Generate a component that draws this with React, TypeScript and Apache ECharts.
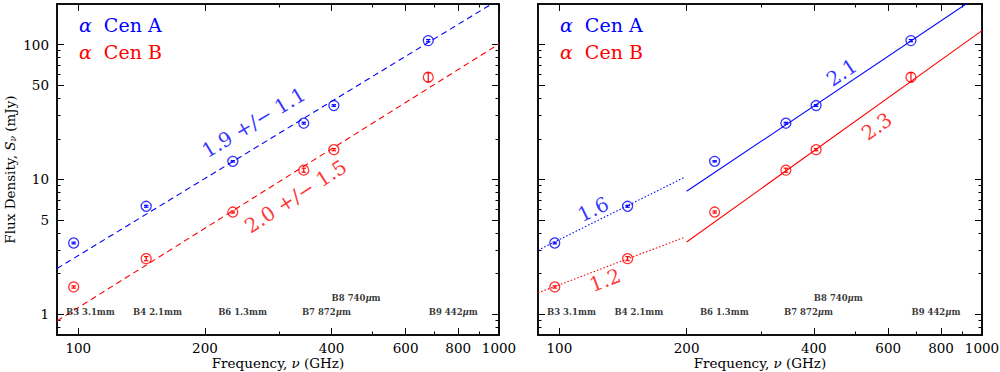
import React, { useEffect, useRef } from "react";
import * as echarts from "echarts";

// ---- data ----
const freqs = [97.5, 145, 233, 343.5, 405, 679]; // GHz
const cenA = [3.37, 6.31, 13.6, 26.1, 35.3, 107]; // mJy
const cenAErr = [0.05, 0.1, 0.15, 0.4, 0.5, 2.0];
const cenB = [1.59, 2.58, 5.72, 11.7, 16.6, 57.3];
const cenBErr = [0.03, 0.09, 0.1, 0.4, 0.3, 4.5];

// power-law fits (endpoints)
const fitAllA = [[89, 2.18], [1000, 216]];
const fitAllB = [[89, 0.89], [1000, 101]];
const fitLowA = [[89, 2.98], [197, 10.3]];
const fitHighA = [[200, 8.15], [1000, 240]];
const fitLowB = [[89, 1.438], [197, 3.7]];
const fitHighB = [[200, 3.43], [1000, 127]];

// ALMA band labels
const bandNames = ["B3 3.1mm", "B4 2.1mm", "B6 1.3mm", "B7 872μm", "B8 740μm", "B9 442μm"];
const bandFreqs = [93.5, 135, 215, 340, 400, 681];
const bandLevels = [1.03, 1.03, 1.03, 1.03, 1.31, 1.03];

// axis ticks
const xMajor = [100, 200, 400, 600, 800, 1000];
const xMinor = [300, 500, 700, 900];
const yMajor = [1, 5, 10, 50, 100];
const yMinor = [0.8, 0.9, 2, 3, 4, 6, 7, 8, 9, 20, 30, 40, 60, 70, 80, 90];
const X_MIN = 89, X_MAX = 1000, Y_MIN = 0.7, Y_MAX = 200;

const BLUE = "#0000ff";
const RED = "#ff0000";
const FONT = "DejaVu Serif";

const lg = (v: number) => Math.log10(v);

function xAxis(grid: number, pos: string, ticks: number[], len: number, labels: boolean, named: boolean) {
  return {
    type: "value",
    gridIndex: grid,
    position: pos,
    min: lg(X_MIN),
    max: lg(X_MAX),
    axisLine: { show: true, onZero: false, lineStyle: { color: "#000", width: 1.5 } },
    axisTick: { show: true, inside: true, length: len, customValues: ticks.map(lg), lineStyle: { color: "#000", width: 1 } },
    axisLabel: labels
      ? {
          show: true,
          customValues: xMajor.map(lg),
          formatter: (v: number) => String(Math.round(Math.pow(10, v))),
          margin: 6,
          color: "#000",
          fontFamily: FONT,
          fontSize: 13.5,
        }
      : { show: false },
    splitLine: { show: false },
    name: named ? "{n|Frequency, }{i|ν}{n| (GHz)}" : "",
    nameLocation: "middle",
    nameGap: 20,
    nameMoveOverlap: false,
    nameTextStyle: {
      verticalAlign: "top",
      lineHeight: 15,
      rich: {
        n: { fontFamily: FONT, fontSize: 13.5, color: "#000", lineHeight: 15 },
        i: { fontFamily: FONT, fontSize: 13.5, color: "#000", fontStyle: "italic", lineHeight: 15 },
      },
    },
  };
}

function yAxis(grid: number, pos: string, ticks: number[], len: number, labels: boolean, named: boolean) {
  return {
    type: "value",
    gridIndex: grid,
    position: pos,
    min: lg(Y_MIN),
    max: lg(Y_MAX),
    axisLine: { show: true, onZero: false, lineStyle: { color: "#000", width: 1.5 } },
    axisTick: { show: true, inside: true, length: len, customValues: ticks.map(lg), lineStyle: { color: "#000", width: 1 } },
    axisLabel: labels
      ? {
          show: true,
          customValues: yMajor.map(lg),
          formatter: (v: number) => String(Math.round(Math.pow(10, v))),
          margin: 8,
          color: "#000",
          fontFamily: FONT,
          fontSize: 13.5,
        }
      : { show: false },
    splitLine: { show: false },
    name: named ? "{n|Flux Density, }{i|S}{s|ν}{n| (mJy)}" : "",
    nameLocation: "middle",
    nameGap: 40,
    nameMoveOverlap: false,
    nameTextStyle: {
      rich: {
        n: { fontFamily: FONT, fontSize: 13.5, color: "#000" },
        i: { fontFamily: FONT, fontSize: 13.5, color: "#000", fontStyle: "italic" },
        s: { fontFamily: FONT, fontSize: 9, color: "#000", fontStyle: "italic", verticalAlign: "bottom" },
      },
    },
  };
}

function panelSeries(p: number, fits: { pts: number[][]; color: string; type: string }[], notes: { text: string; at: number[]; rot: number; color: string }[]) {
  const xi = p * 4;
  const yi = p * 4;
  const out: any[] = [];
  fits.forEach((f) => {
    out.push({
      type: "line",
      xAxisIndex: xi,
      yAxisIndex: yi,
      data: f.pts.map((d) => [lg(d[0]), lg(d[1])]),
      showSymbol: false,
      symbol: "none",
      silent: true,
      clip: true,
      lineStyle: { color: f.color, width: 1.1, type: f.type === "dashed" ? [6, 4] : f.type === "dotted" ? [1.5, 2] : "solid" },
      z: 2,
    });
  });
  const sets = [
    { vals: cenA, errs: cenAErr, color: BLUE },
    { vals: cenB, errs: cenBErr, color: RED },
  ];
  sets.forEach((s) => {
    out.push({
      type: "scatter",
      xAxisIndex: xi,
      yAxisIndex: yi,
      symbol: "circle",
      symbolSize: 10,
      silent: true,
      itemStyle: { color: "rgba(0,0,0,0)", borderColor: s.color, borderWidth: 1.3 },
      data: freqs.map((f, i) => [lg(f), lg(s.vals[i])]),
      z: 3,
    });
    out.push({
      type: "custom",
      xAxisIndex: xi,
      yAxisIndex: yi,
      silent: true,
      data: freqs.map((f, i) => [lg(f), lg(s.vals[i] - s.errs[i]), lg(s.vals[i] + s.errs[i])]),
      renderItem: (params: any, api: any) => {
        const lo = api.coord([api.value(0), api.value(1)]);
        const hi = api.coord([api.value(0), api.value(2)]);
        const w = 2.2;
        const st = { stroke: s.color, lineWidth: 1.2 };
        return {
          type: "group",
          children: [
            { type: "line", shape: { x1: lo[0], y1: lo[1], x2: hi[0], y2: hi[1] }, style: st },
            { type: "line", shape: { x1: lo[0] - w, y1: lo[1], x2: lo[0] + w, y2: lo[1] }, style: st },
            { type: "line", shape: { x1: hi[0] - w, y1: hi[1], x2: hi[0] + w, y2: hi[1] }, style: st },
          ],
        };
      },
      z: 3,
    });
  });
  notes.forEach((n) => {
    out.push({
      type: "scatter",
      xAxisIndex: xi,
      yAxisIndex: yi,
      symbolSize: 0,
      silent: true,
      data: [[lg(n.at[0]), lg(n.at[1])]],
      label: {
        show: true,
        position: "inside",
        formatter: n.text,
        rotate: n.rot,
        color: n.color,
        fontFamily: FONT,
        fontSize: 20,
      },
      z: 4,
    });
  });
  out.push({
    type: "scatter",
    xAxisIndex: xi,
    yAxisIndex: yi,
    symbolSize: 0,
    silent: true,
    data: bandNames.map((b, i) => ({ value: [lg(bandFreqs[i]), lg(bandLevels[i])], name: b })),
    label: {
      show: true,
      position: [0, 0],
      align: "left",
      verticalAlign: "middle",
      formatter: (prm: any) => {
        const nm: string = prm.name;
        if (nm.indexOf("μ") >= 0) {
          const k = nm.indexOf("μ");
          return "{t|" + nm.slice(0, k) + "}{u|μ}{t|" + nm.slice(k + 1) + "}";
        }
        return "{t|" + nm + "}";
      },
      rich: {
        t: { fontFamily: FONT, fontSize: 8.5, fontWeight: "bold", color: "#000" },
        u: { fontFamily: FONT, fontSize: 8.5, fontWeight: "bold", color: "#000", fontStyle: "italic" },
      },
    },
    z: 4,
  });
  return out;
}

function legendText(x: number, y: number, label: string, color: string) {
  return {
    type: "text",
    x,
    y,
    silent: true,
    style: {
      text: "{g|α} {n|" + label + "}",
      verticalAlign: "middle",
      rich: {
        g: { fontFamily: FONT, fontSize: 19, fill: color, fontStyle: "italic", padding: [0, 3, 0, 0] },
        n: { fontFamily: FONT, fontSize: 19, fill: color, padding: [0, 0, 0, 3] },
      },
      fontFamily: FONT,
      fontSize: 19,
      fill: color,
    },
  };
}

export default function App() {
  const ref = useRef<HTMLDivElement>(null);
  useEffect(() => {
    if (!ref.current) return;
    const chart = echarts.init(ref.current, null, { renderer: "svg" });
    const grids = [
      { left: 57, top: 4, width: 442, height: 331, show: false, containLabel: false, outerBoundsMode: "none" },
      { left: 538, top: 4, width: 444, height: 331, show: false, containLabel: false, outerBoundsMode: "none" },
    ];
    const xAxes: any[] = [];
    const yAxes: any[] = [];
    [0, 1].forEach((g) => {
      xAxes.push(xAxis(g, "bottom", xMajor, 7, true, true));
      xAxes.push(xAxis(g, "bottom", xMinor, 3.5, false, false));
      xAxes.push(xAxis(g, "top", xMajor, 7, false, false));
      xAxes.push(xAxis(g, "top", xMinor, 3.5, false, false));
      yAxes.push(yAxis(g, "left", yMajor, 7, g === 0, g === 0));
      yAxes.push(yAxis(g, "left", yMinor, 3.5, false, false));
      yAxes.push(yAxis(g, "right", yMajor, 7, false, false));
      yAxes.push(yAxis(g, "right", yMinor, 3.5, false, false));
    });
    const series = [
      ...panelSeries(
        0,
        [
          { pts: fitAllA, color: BLUE, type: "dashed" },
          { pts: fitAllB, color: RED, type: "dashed" },
        ],
        [
          { text: "1.9 +/− 1.1", at: [261, 26.4], rot: 31, color: BLUE },
          { text: "2.0 +/− 1.5", at: [328.6, 7.48], rot: 33, color: RED },
        ]
      ),
      ...panelSeries(
        1,
        [
          { pts: fitLowA, color: BLUE, type: "dotted" },
          { pts: fitHighA, color: BLUE, type: "solid" },
          { pts: fitLowB, color: RED, type: "dotted" },
          { pts: fitHighB, color: RED, type: "solid" },
        ],
        [
          { text: "2.1", at: [465.7, 62], rot: 34, color: BLUE },
          { text: "2.3", at: [563.5, 24.7], rot: 35, color: RED },
          { text: "1.6", at: [120.2, 6.0], rot: 26, color: BLUE },
          { text: "1.2", at: [128.3, 1.79], rot: 21, color: RED },
        ]
      ),
    ];
    chart.setOption({
      animation: false,
      backgroundColor: "#fff",
      textStyle: { fontFamily: FONT },
      grid: grids,
      xAxis: xAxes,
      yAxis: yAxes,
      series,
      graphic: [
        legendText(79, 25, "Cen A", BLUE),
        legendText(79, 52, "Cen B", RED),
        legendText(560, 25, "Cen A", BLUE),
        legendText(560, 52, "Cen B", RED),
      ],
    });
    return () => chart.dispose();
  }, []);
  return <div ref={ref} style={{ position: "fixed", left: 0, top: 0, width: 1000, height: 372 }} />;
}
